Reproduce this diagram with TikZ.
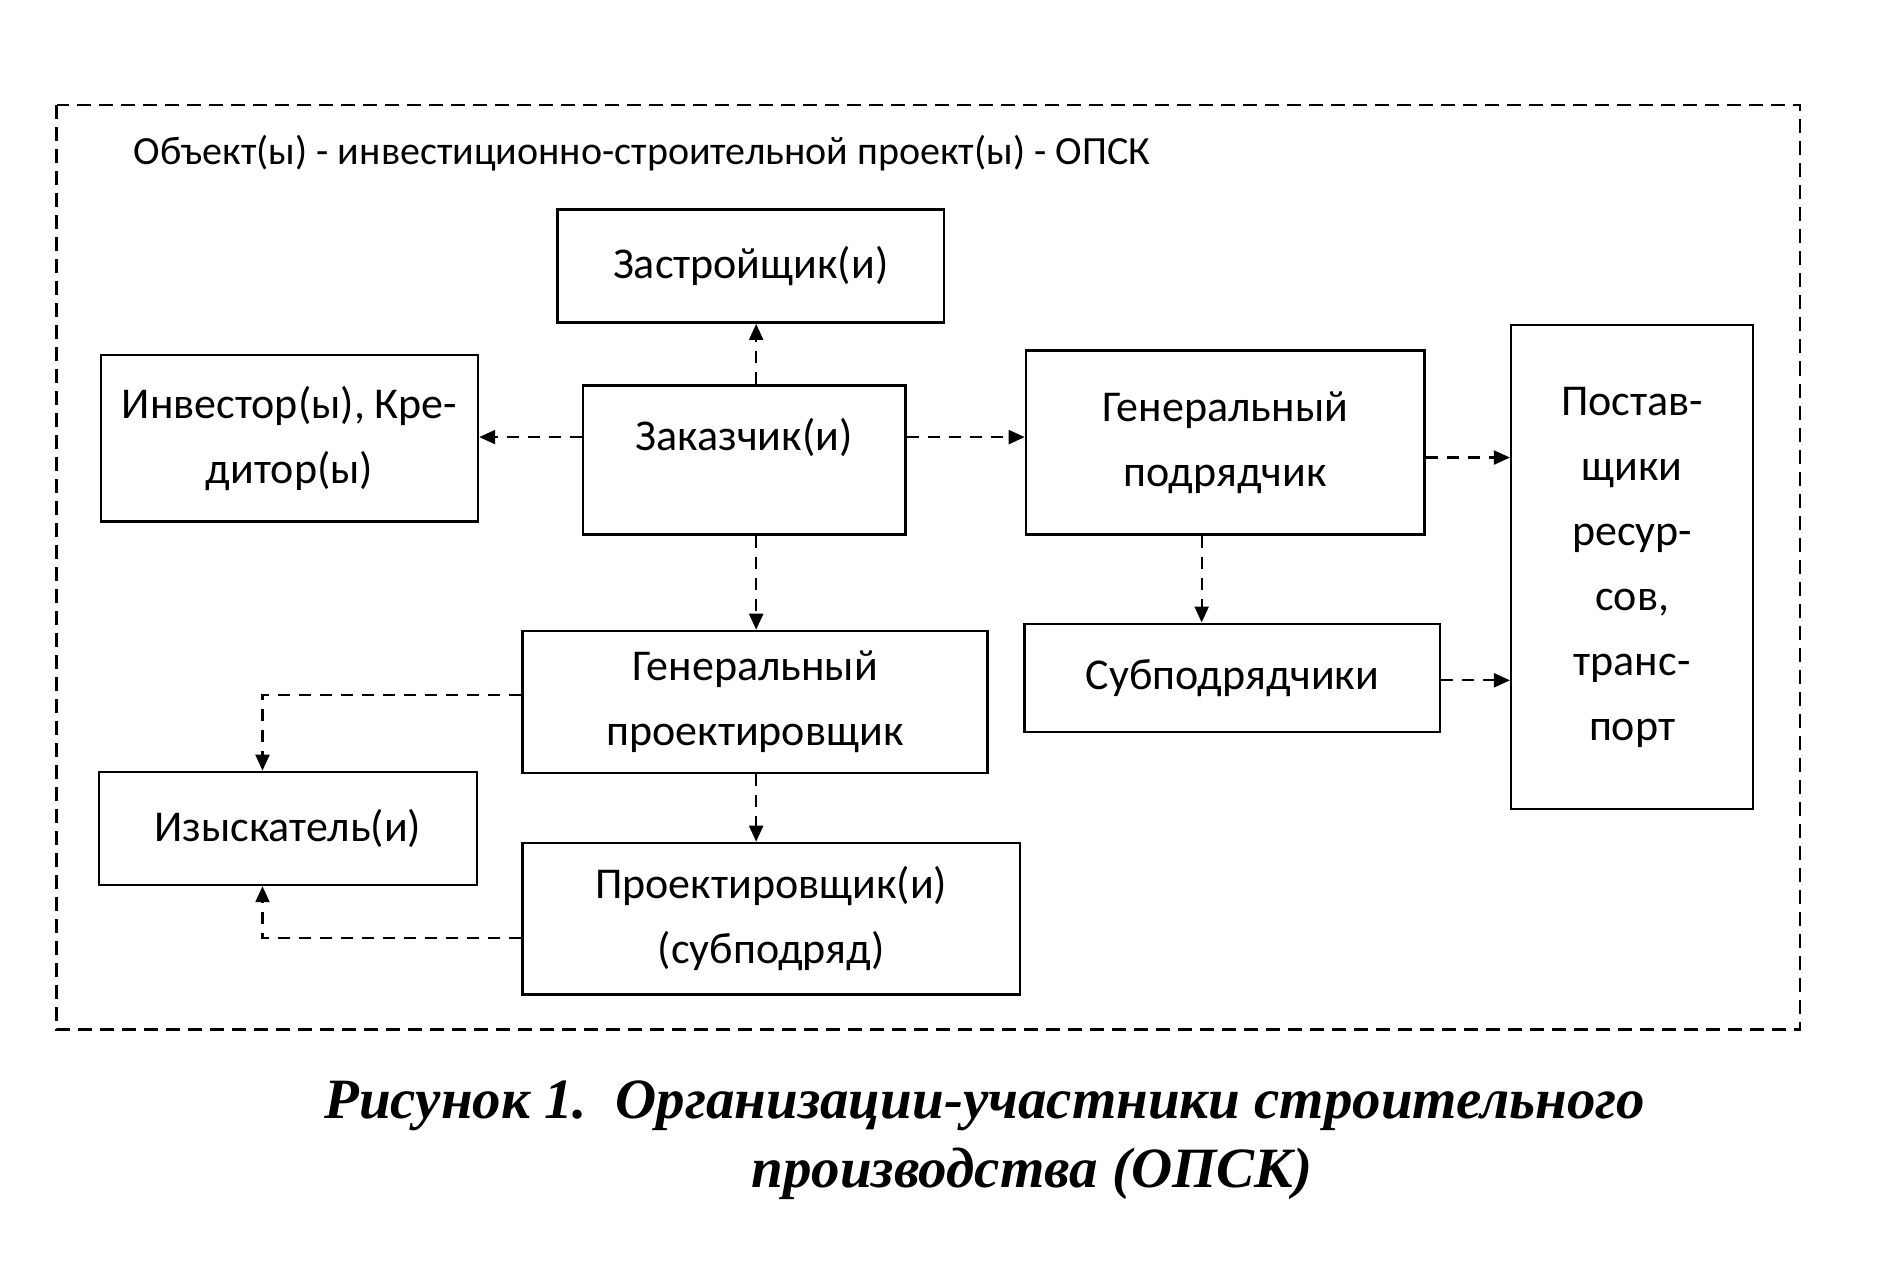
\documentclass[tikz,border=0pt]{standalone}
\usepackage{fontspec}
\setmainfont{Carlito}
\newfontfamily\capfont{Liberation Serif}
\usetikzlibrary{arrows.meta}
\begin{document}
\begin{tikzpicture}[x=1.204pt,y=-1.204pt,
  box/.style={draw,line width=2.4pt,align=center,font=\fontsize{44}{65}\selectfont,inner sep=0pt},
  arr/.style={line width=2.2pt,dash pattern=on 12pt off 9pt,-{Triangle[length=16pt,width=14pt]}}]
\useasboundingbox (0,0) rectangle (1568,1053);
\fill[white] (0,0) rectangle (1568,1053);
\draw[line width=2.2pt,dash pattern=on 14pt off 8pt] (47,87) rectangle (1495,855);
\node[anchor=west,font=\fontsize{40}{48}\selectfont] (title) at (108,127) {Объект(ы) - инвестиционно-строительной проект(ы) - ОПСК};
\node[box,minimum width=321*1.204pt,minimum height=94*1.204pt] (zas) at (623.5,221) {Застройщик(и)};
\node[box,minimum width=313*1.204pt,minimum height=138*1.204pt] (inv) at (240.5,364) {Инвестор(ы), Кре-\\дитор(ы)};
\node[box,minimum width=268*1.204pt,minimum height=124*1.204pt] (zak) at (618,382) {Заказчик(и)\\[-14pt]\mbox{}};
\node[box,minimum width=331*1.204pt,minimum height=153*1.204pt] (gp) at (1017.5,367.5) {Генеральный\\подрядчик};
\node[box,minimum width=201*1.204pt,minimum height=402*1.204pt] (post) at (1355.5,471) {Постав-\\щики\\ресур-\\сов,\\транс-\\порт};
\node[box,minimum width=386*1.204pt,minimum height=118*1.204pt] (gpr) at (627,583) {Генеральный\\проектировщик};
\node[box,minimum width=345*1.204pt,minimum height=90*1.204pt] (sub) at (1023.5,563) {Субподрядчики};
\node[box,minimum width=314*1.204pt,minimum height=94*1.204pt] (izy) at (239,688) {Изыскатель(и)};
\node[box,minimum width=413*1.204pt,minimum height=126*1.204pt] (pro) at (640.5,763) {Проектировщик(и)\\(субподряд)};
\draw[arr] (zak.north -| 628,0) -- (zas.south -| 628,0);
\draw[arr] (zak.west |- 0,363) -- (inv.east |- 0,363);
\draw[arr] (zak.east |- 0,363) -- (gp.west |- 0,363);
\draw[arr] (zak.south -| 628,0) -- (gpr.north -| 628,0);
\draw[arr] (gp.south -| 998,0) -- (sub.north -| 998,0);
\draw[arr] (gp.east |- 0,380) -- (post.west |- 0,380);
\draw[arr] (sub.east |- 0,565) -- (post.west |- 0,565);
\draw[arr] (gpr.west |- 0,577) -| (izy.north -| 218,0);
\draw[arr] (gpr.south -| 628,0) -- (pro.north -| 628,0);
\draw[arr] (pro.west |- 0,779) -| (izy.south -| 218,0);
\node[font=\capfont\bfseries\itshape\fontsize{57}{66}\selectfont] (cap1) at (818,918) {Рисунок 1.\ \ Организации-участники строительного};
\node[font=\capfont\bfseries\itshape\fontsize{57}{66}\selectfont] (cap2) at (857,975) {производства (ОПСК)};
\end{tikzpicture}
\end{document}
